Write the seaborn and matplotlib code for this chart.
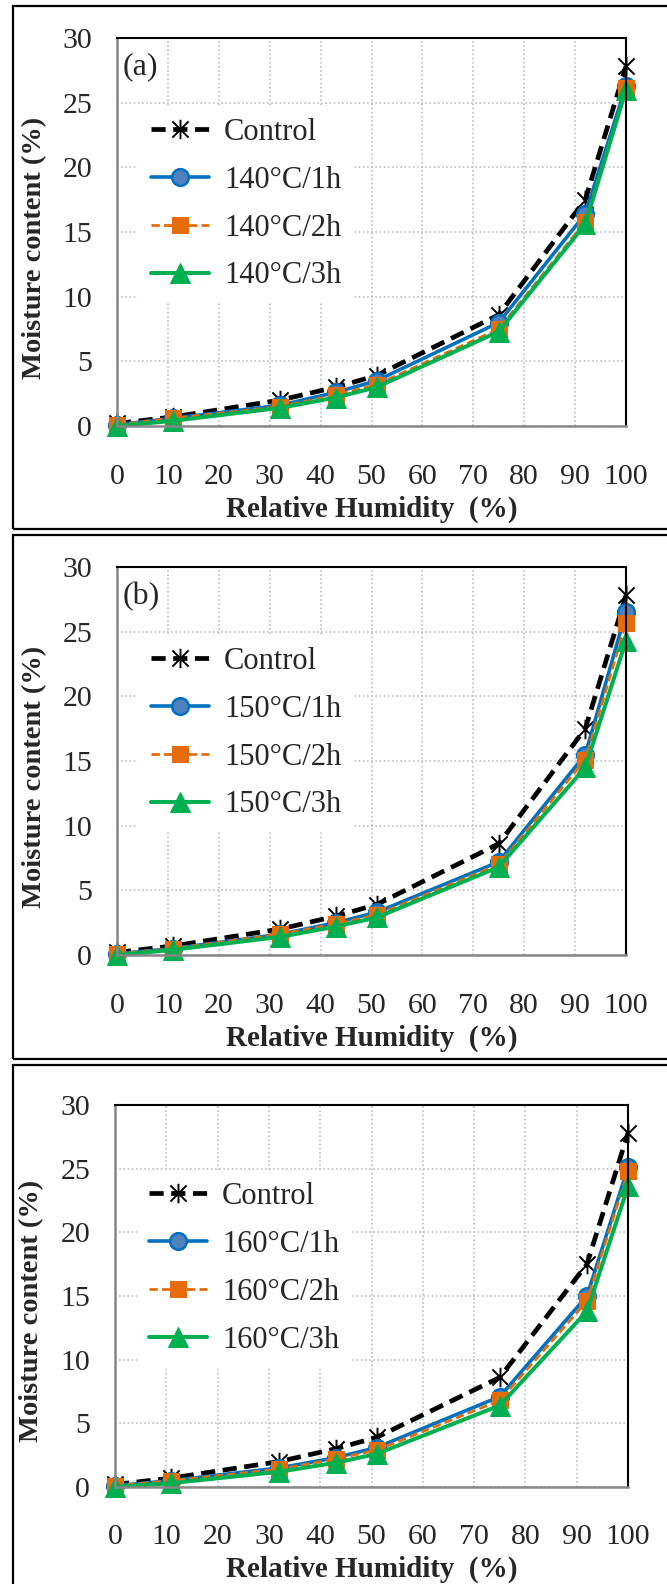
import matplotlib
matplotlib.use("Agg")
import matplotlib.pyplot as plt
import seaborn as sns
from matplotlib.path import Path
from matplotlib.patches import Rectangle

# relative humidity of the salt solutions (%)
rh = [0, 11, 32, 43, 51, 75, 92, 100]

control = [0.2, 0.7, 2.0, 3.0, 3.9, 8.6, 17.5, 27.8]

t140_1h = [0.1, 0.6, 1.6, 2.6, 3.5, 8.0, 16.4, 26.3]
t140_2h = [0.1, 0.6, 1.5, 2.4, 3.2, 7.5, 15.8, 26.1]
t140_3h = [0.0, 0.4, 1.4, 2.2, 3.0, 7.3, 15.6, 26.0]

t150_1h = [0.1, 0.5, 1.6, 2.5, 3.3, 7.2, 15.5, 26.5]
t150_2h = [0.1, 0.5, 1.6, 2.4, 3.1, 7.0, 15.1, 25.7]
t150_3h = [0.0, 0.4, 1.4, 2.2, 2.9, 6.8, 14.5, 24.3]

t160_1h = [0.1, 0.5, 1.5, 2.3, 3.1, 7.1, 15.0, 25.1]
t160_2h = [0.1, 0.5, 1.4, 2.2, 2.9, 6.8, 14.6, 24.8]
t160_3h = [0.0, 0.3, 1.2, 1.9, 2.6, 6.4, 13.8, 23.6]

panels = [
    ("(a)", "140", [t140_1h, t140_2h, t140_3h]),
    ("(b)", "150", [t150_1h, t150_2h, t150_3h]),
    ("", "160", [t160_1h, t160_2h, t160_3h]),
]

sns.set_style("white")
plt.rcParams['font.family'] = ['Liberation Serif', 'DejaVu Serif']

W, H = 667, 1584
fig = plt.figure(figsize=(W / 100, H / 100), dpi=100)

# pixel boxes: axes (left, right, top, bottom) and outer frames (top, bottom)
axes_px = [(117, 626, 38, 426), (117, 626, 567, 955), (115, 628, 1105, 1487)]
frames_px = [(6, 529), (535, 1059), (1065, 1600)]

star = Path([(-1, -1), (1, 1), (-1, 1), (1, -1), (0, -1.2), (0, 1.2)],
            [Path.MOVETO, Path.LINETO] * 3)

for (tag, temp, series), (l, r, t, b), (ft, fb) in zip(panels, axes_px, frames_px):
    fig.add_artist(Rectangle((13 / W, 1 - fb / H), (720 - 13) / W, (fb - ft) / H,
                             transform=fig.transFigure, fill=False, lw=1.6, ec='black'))
    ax = fig.add_axes([l / W, 1 - b / H, (r - l) / W, (b - t) / H])

    sns.lineplot(x=rh, y=control, ax=ax, color='black', lw=3.4, dashes=False,
                 linestyle=(0, (3, 1.6)), marker=star, markersize=14,
                 markeredgecolor='black', markerfacecolor='none', markeredgewidth=1.4,
                 label='Control', clip_on=False)
    sns.lineplot(x=rh, y=series[0], ax=ax, color='#0070C0', lw=2.6,
                 marker='o', markersize=12, markerfacecolor='#4F81BD',
                 markeredgecolor='#0070C0', markeredgewidth=1.8,
                 label=f'{temp}°C/1h', clip_on=False)
    sns.lineplot(x=rh, y=series[1], ax=ax, color='#E46C0A', lw=2.0,
                 linestyle=(0, (3, 1.5)), marker='s', markersize=12,
                 markerfacecolor='#E46C0A', markeredgecolor='#E46C0A',
                 label=f'{temp}°C/2h', clip_on=False)
    sns.lineplot(x=rh, y=series[2], ax=ax, color='#00B050', lw=2.9,
                 marker='^', markersize=14, markerfacecolor='#00B050',
                 markeredgecolor='#00B050',
                 label=f'{temp}°C/3h', clip_on=False)

    ax.set_xlim(0, 100)
    ax.set_ylim(0, 30)
    ax.set_xticks(range(0, 101, 10))
    ax.set_yticks(range(0, 31, 5))
    ax.set_axisbelow(True)
    ax.grid(True, color='#BFBFBF', linestyle=(0, (1, 1.5)), lw=1.2)
    ax.tick_params(axis='both', length=0, labelsize=21.5)
    ax.tick_params(axis='y', pad=18)
    ax.tick_params(axis='x', pad=27)
    for side in ('left', 'bottom'):
        ax.spines[side].set_color('#868686')
        ax.spines[side].set_linewidth(1.8)
    for side in ('top', 'right'):
        ax.spines[side].set_color('black')
        ax.spines[side].set_linewidth(1.5)

    ax.set_ylabel('Moisture content (%)', fontsize=20.5, fontweight='bold')
    ax.yaxis.set_label_coords(-0.1375, 0.46)
    ax.set_xlabel('Relative Humidity  (%)', fontsize=21, fontweight='bold')
    ax.xaxis.set_label_coords(0.5, -0.18)

    if tag:
        ax.text(0.012, 0.925, tag, transform=ax.transAxes, fontsize=23,
                ha='left', va='center')

    leg = ax.legend(loc='center left', bbox_to_anchor=(0.042, 0.572), fontsize=22,
                    frameon=True, fancybox=False, framealpha=1, edgecolor='none',
                    handlelength=1.9, handletextpad=0.5, labelspacing=0.62,
                    borderpad=0.4, borderaxespad=0)
    leg.get_frame().set_facecolor('white')

fig.savefig('out.png', dpi=100)
